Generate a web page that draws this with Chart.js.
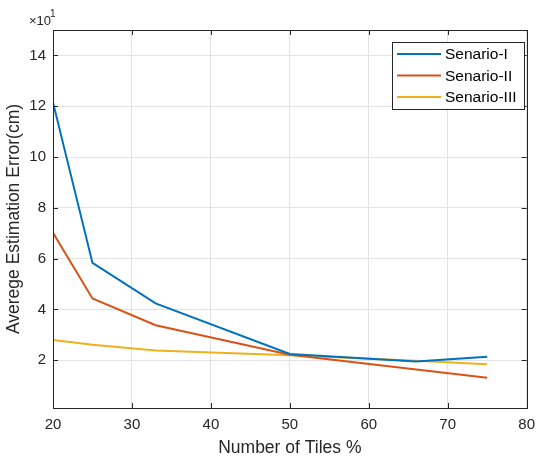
<!DOCTYPE html>
<html>
<head>
<meta charset="utf-8">
<script src="https://cdn.jsdelivr.net/npm/chart.js@4.4.1/dist/chart.umd.min.js"></script>
<style>
  html, body { margin: 0; padding: 0; background: #fff; }
  #wrap { width: 543px; height: 456px; }
</style>
</head>
<body>
<div id="wrap"><canvas id="chart" width="543" height="456"></canvas></div>
<script>
const tiles = [20, 25, 33, 50, 66, 75]
const senario1 = [12.15, 5.83, 4.24, 2.25, 1.95, 2.14]
const senario2 = [7.02, 4.43, 3.38, 2.22, null, 1.31]
const senario3 = [2.80, 2.61, 2.38, 2.20, 1.98, 1.84]
const labels = ['Senario-I', 'Senario-II', 'Senario-III']
const colors = ['#0072BD', '#D95319', '#EDB120']
const xTicks = [20, 30, 40, 50, 60, 70, 80]
const yTicks = [2, 4, 6, 8, 10, 12, 14]

const axisColor = '#262626'
const font = 'Liberation Sans, Arial, Helvetica, sans-serif'

const toPoints = vals => tiles.map((t, i) => ({ x: t, y: vals[i] }))

// box, inward ticks, exponent label and legend inside the plot
const matlabLook = {
  id: 'matlabLook',
  afterDraw(chart) {
    const ctx = chart.ctx
    const { left, right, top, bottom } = chart.chartArea
    const xs = chart.scales.x
    const ys = chart.scales.y
    const len = 5
    ctx.save()
    ctx.strokeStyle = axisColor
    ctx.lineWidth = 1
    ctx.beginPath()
    xTicks.forEach(v => {
      const px = Math.round(xs.getPixelForValue(v)) + 0.5
      ctx.moveTo(px, bottom); ctx.lineTo(px, bottom - len)
      ctx.moveTo(px, top); ctx.lineTo(px, top + len)
    })
    yTicks.forEach(v => {
      const py = Math.round(ys.getPixelForValue(v)) + 0.5
      ctx.moveTo(left, py); ctx.lineTo(left + len, py)
      ctx.moveTo(right, py); ctx.lineTo(right - len, py)
    })
    ctx.stroke()
    ctx.strokeRect(Math.round(left) + 0.5, Math.round(top) + 0.5, Math.round(right - left), Math.round(bottom - top))

    // x10^1
    ctx.fillStyle = axisColor
    ctx.textBaseline = 'alphabetic'
    ctx.textAlign = 'left'
    ctx.font = '13px ' + font
    ctx.fillText('\u00d710', 29, 25)
    ctx.font = '10px ' + font
    ctx.fillText('1', 50, 17)

    // legend
    const bx = 392, by = 42, bw = 132, bh = 67
    ctx.fillStyle = '#fff'
    ctx.fillRect(bx, by, bw, bh)
    ctx.strokeStyle = axisColor
    ctx.strokeRect(bx + 0.5, by + 0.5, bw, bh)
    ctx.font = '15.5px ' + font
    ctx.textBaseline = 'middle'
    chart.data.datasets.forEach((ds, i) => {
      const ry = 54 + i * 21.5
      ctx.strokeStyle = ds.borderColor
      ctx.lineWidth = 2
      ctx.beginPath()
      ctx.moveTo(397, ry); ctx.lineTo(441, ry)
      ctx.stroke()
      ctx.fillStyle = '#000'
      ctx.fillText(ds.label, 445, ry + 1)
    })
    ctx.restore()
  }
}

new Chart(document.getElementById('chart'), {
  type: 'line',
  data: {
    datasets: [senario1, senario2, senario3].map((vals, i) => ({
      label: labels[i],
      data: toPoints(vals),
      borderColor: colors[i],
      backgroundColor: colors[i],
      borderWidth: 2,
      pointRadius: 0,
      tension: 0,
      spanGaps: true
    }))
  },
  options: {
    responsive: false,
    animation: false,
    layout: { padding: { top: 30, right: 7, left: 0, bottom: 0 } },
    plugins: { legend: { display: false }, tooltip: { enabled: false } },
    scales: {
      x: {
        type: 'linear',
        min: 20,
        max: 80,
        afterBuildTicks: s => { s.ticks = xTicks.map(v => ({ value: v })) },
        afterFit: s => { s.height = 48 },
        grid: { color: '#e3e3e3', drawTicks: false },
        border: { display: false },
        ticks: { color: axisColor, padding: 8, font: { family: font, size: 15 }, maxRotation: 0 },
        title: { display: true, text: 'Number of Tiles %', color: axisColor, padding: { top: 0, bottom: -3 }, font: { family: font, size: 17.5 } }
      },
      y: {
        min: 0.12,
        max: 15,
        afterBuildTicks: s => { s.ticks = yTicks.map(v => ({ value: v })) },
        afterFit: s => { s.width = 53 },
        grid: { color: '#e3e3e3', drawTicks: false },
        border: { display: false },
        ticks: { color: axisColor, padding: 7, font: { family: font, size: 15 } },
        title: { display: true, text: 'Averege Estimation Error(cm)', color: axisColor, padding: { top: 4, bottom: 0 }, font: { family: font, size: 17.5 } }
      }
    }
  },
  plugins: [matlabLook]
})
</script>
</body>
</html>
